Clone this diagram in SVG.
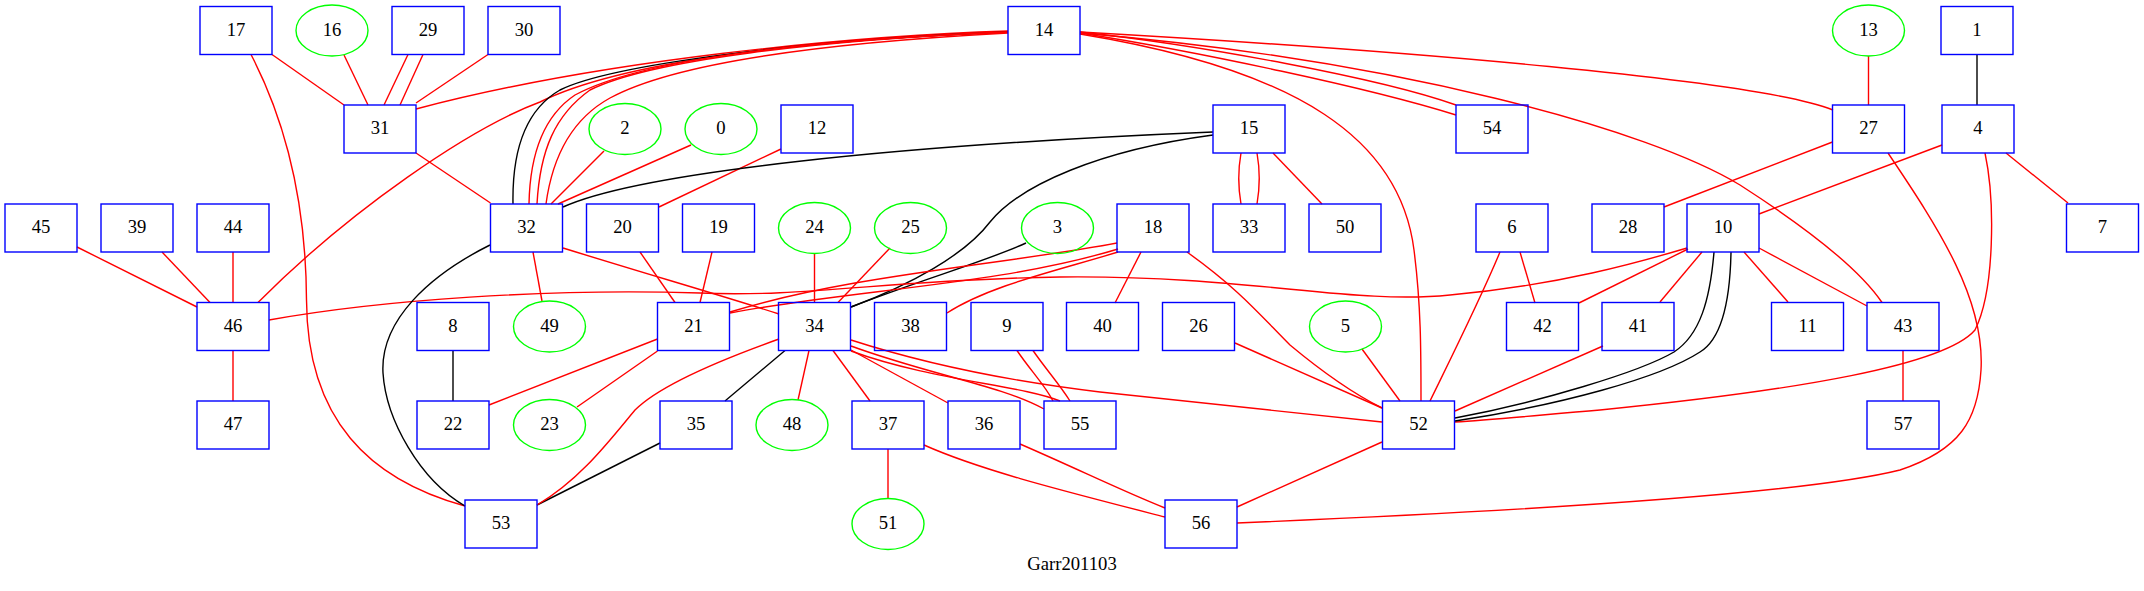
<svg xmlns="http://www.w3.org/2000/svg" width="2144" height="591" viewBox="0 0 2144 591">
<style>
.b rect{fill:none;stroke:#0000ff;stroke-width:1.4}
.e ellipse{fill:none;stroke:#00ff00;stroke-width:1.4}
text{font-family:"Liberation Serif","Times New Roman",serif;font-size:18.67px;fill:#000;text-anchor:middle}
#edges path{fill:none;stroke-width:1.4}
#edges .r{stroke:#ff0000}
#edges .k{stroke:#000000}
</style>
<rect width="2144" height="591" fill="#ffffff"/>
<g id="edges">
<path class="r" d="M272,54.5 L344,105"/>
<path class="r" d="M251,54.5 C285,120 306,200 306.5,300 C307,420 370,480 465,506"/>
<path class="r" d="M344,55 L368,105"/>
<path class="r" d="M408,54.5 L384,105"/>
<path class="r" d="M423,54.5 L400,105"/>
<path class="r" d="M488,54.5 L416,103"/>
<path class="r" d="M1008,31 C850,36 600,60 416,109"/>
<path class="r" d="M1008,32 C800,40 620,62 540,102 C470,128 350,210 258,302.5"/>
<path class="k" d="M1008,32 C800,40 610,65 560,90 C525,110 512,150 513,204"/>
<path class="r" d="M1008,32 C800,40 640,60 575,95 C545,115 530,150 529,204"/>
<path class="r" d="M1008,32 C820,40 650,60 590,90 C555,115 540,150 537,204"/>
<path class="r" d="M1008,33 C840,42 680,60 610,98 C570,120 552,160 546,204"/>
<path class="r" d="M416,153 L490.5,203"/>
<path class="r" d="M604,151 L551,204"/>
<path class="r" d="M691,145 L558,204"/>
<path class="r" d="M781,149 L659,207"/>
<path class="k" d="M1213,132 C900,145 640,172 563,207"/>
<path class="k" d="M1213,135 C1100,150 1020,185 990,222 C965,255 910,285 851,307"/>
<path class="k" d="M1026,243 C990,260 920,280 851,307"/>
<path class="r" d="M1241,153 C1238,170 1238,187 1241,204"/>
<path class="r" d="M1257,153 C1260,170 1260,187 1257,204"/>
<path class="r" d="M1273,153 L1322,204"/>
<path class="r" d="M1080,32 C1200,45 1380,78 1456,105"/>
<path class="r" d="M1080,33 C1200,52 1370,88 1456,115"/>
<path class="r" d="M1080,34 C1300,70 1400,140 1414,250 C1421,305 1421,350 1421,401"/>
<path class="r" d="M1080,33 C1400,60 1650,130 1740,185 C1810,230 1860,270 1882,302.5"/>
<path class="r" d="M1080,32 C1400,50 1760,80 1833,110"/>
<path class="r" d="M1868.5,56 L1868.5,105"/>
<path class="k" d="M1977,54.5 L1977,105"/>
<path class="r" d="M1832.5,142 L1664,207"/>
<path class="r" d="M1942,145 L1759,214"/>
<path class="r" d="M2006,153 L2068,203"/>
<path class="r" d="M1985,153 C1995,200 1995,290 1975,330 C1945,365 1800,390 1600,410 C1530,416 1490,420 1455,422"/>
<path class="r" d="M1888,153 C1940,230 1985,300 1981,370 C1978,420 1960,450 1900,470 C1800,495 1500,512 1237,523"/>
<path class="r" d="M1687,248 C1640,262 1560,285 1450,295 C1350,305 1250,275 1060,277 C900,279 800,298 700,293 C550,288 380,300 269,320"/>
<path class="r" d="M1117,243 C1000,265 850,275 730,312"/>
<path class="r" d="M1118,249 C1000,285 850,290 730,313"/>
<path class="r" d="M1118,252 C1060,270 990,285 947,313"/>
<path class="r" d="M1141,252 L1115,303"/>
<path class="r" d="M1187,252 C1240,290 1260,315 1290,345 C1320,370 1350,392 1382,408"/>
<path class="r" d="M1500,252 C1480,300 1450,360 1430,401"/>
<path class="r" d="M1520,252 L1535,303"/>
<path class="r" d="M1235,343 L1382,408"/>
<path class="r" d="M1362,349 L1400,401"/>
<path class="r" d="M1603,346 L1455,411"/>
<path class="k" d="M1714,252 C1710,300 1700,335 1674,352 C1640,372 1540,402 1455,418"/>
<path class="k" d="M1731,252 C1730,305 1720,340 1700,352 C1660,378 1560,405 1455,421"/>
<path class="r" d="M1702,252 L1660,302"/>
<path class="r" d="M1744,252 L1788,302"/>
<path class="r" d="M1759,248 L1867,306"/>
<path class="r" d="M1688,249 L1579,303"/>
<path class="r" d="M1903,350.5 L1903,401"/>
<path class="r" d="M1382,442 L1237,507"/>
<path class="r" d="M1020,444 C1080,470 1120,490 1165,508"/>
<path class="r" d="M924,445 C980,470 1060,490 1165,517"/>
<path class="r" d="M888,449 L888,498.5"/>
<path class="r" d="M851,346 C930,375 1000,385 1044,409"/>
<path class="r" d="M851,351 C930,380 1020,385 1060,401"/>
<path class="r" d="M851,340 C950,372 1050,386 1100,392 L1382,422"/>
<path class="r" d="M1017,350.5 C1030,370 1045,385 1053,401"/>
<path class="r" d="M1033,350.5 C1045,368 1060,385 1070,401"/>
<path class="r" d="M851,350 L948,403"/>
<path class="r" d="M833,350.5 L870,401"/>
<path class="r" d="M809,350.5 L798,400"/>
<path class="k" d="M785,350.5 L725,401"/>
<path class="k" d="M660,443 L537,505"/>
<path class="r" d="M779,339 C720,360 660,385 635,410 C610,440 580,480 537,505"/>
<path class="r" d="M657.5,339 L489,405"/>
<path class="r" d="M657.5,351 L577,407"/>
<path class="r" d="M640,252 L675,302.5"/>
<path class="r" d="M712,252 L700,302.5"/>
<path class="r" d="M814.5,253.5 L814.5,302.5"/>
<path class="r" d="M890,248 L838,302.5"/>
<path class="r" d="M563,248 C650,275 720,295 779,314"/>
<path class="r" d="M533,252 L542,301"/>
<path class="k" d="M490,245 C430,275 380,320 383,373 C386,420 420,480 465,506"/>
<path class="r" d="M77,247 L197,307"/>
<path class="r" d="M162,252 L210,302.5"/>
<path class="r" d="M233,252 L233,302.5"/>
<path class="r" d="M233,350.5 L233,401"/>
<path class="k" d="M453,350.5 L453,401"/>
</g>
<g id="n17" class="b"><rect x="200" y="6.5" width="72" height="48"/><text x="236" y="35.5">17</text></g>
<g id="n16" class="e"><ellipse cx="332" cy="30.5" rx="36" ry="25.5"/><text x="332" y="35.5">16</text></g>
<g id="n29" class="b"><rect x="392" y="6.5" width="72" height="48"/><text x="428" y="35.5">29</text></g>
<g id="n30" class="b"><rect x="488" y="6.5" width="72" height="48"/><text x="524" y="35.5">30</text></g>
<g id="n14" class="b"><rect x="1008" y="6.5" width="72" height="48"/><text x="1044" y="35.5">14</text></g>
<g id="n13" class="e"><ellipse cx="1868.5" cy="30.5" rx="36" ry="25.5"/><text x="1868.5" y="35.5">13</text></g>
<g id="n1" class="b"><rect x="1941" y="6.5" width="72" height="48"/><text x="1977" y="35.5">1</text></g>
<g id="n31" class="b"><rect x="344" y="105" width="72" height="48"/><text x="380" y="134">31</text></g>
<g id="n2" class="e"><ellipse cx="625" cy="129" rx="36" ry="25.5"/><text x="625" y="134">2</text></g>
<g id="n0" class="e"><ellipse cx="721" cy="129" rx="36" ry="25.5"/><text x="721" y="134">0</text></g>
<g id="n12" class="b"><rect x="781" y="105" width="72" height="48"/><text x="817" y="134">12</text></g>
<g id="n15" class="b"><rect x="1213" y="105" width="72" height="48"/><text x="1249" y="134">15</text></g>
<g id="n54" class="b"><rect x="1456" y="105" width="72" height="48"/><text x="1492" y="134">54</text></g>
<g id="n27" class="b"><rect x="1832.5" y="105" width="72" height="48"/><text x="1868.5" y="134">27</text></g>
<g id="n4" class="b"><rect x="1942" y="105" width="72" height="48"/><text x="1978" y="134">4</text></g>
<g id="n45" class="b"><rect x="5" y="204" width="72" height="48"/><text x="41" y="233">45</text></g>
<g id="n39" class="b"><rect x="101" y="204" width="72" height="48"/><text x="137" y="233">39</text></g>
<g id="n44" class="b"><rect x="197" y="204" width="72" height="48"/><text x="233" y="233">44</text></g>
<g id="n32" class="b"><rect x="490.5" y="204" width="72" height="48"/><text x="526.5" y="233">32</text></g>
<g id="n20" class="b"><rect x="586.5" y="204" width="72" height="48"/><text x="622.5" y="233">20</text></g>
<g id="n19" class="b"><rect x="682.5" y="204" width="72" height="48"/><text x="718.5" y="233">19</text></g>
<g id="n24" class="e"><ellipse cx="814.5" cy="228" rx="36" ry="25.5"/><text x="814.5" y="233">24</text></g>
<g id="n25" class="e"><ellipse cx="910.5" cy="228" rx="36" ry="25.5"/><text x="910.5" y="233">25</text></g>
<g id="n3" class="e"><ellipse cx="1057.5" cy="228" rx="36" ry="25.5"/><text x="1057.5" y="233">3</text></g>
<g id="n18" class="b"><rect x="1117" y="204" width="72" height="48"/><text x="1153" y="233">18</text></g>
<g id="n33" class="b"><rect x="1213" y="204" width="72" height="48"/><text x="1249" y="233">33</text></g>
<g id="n50" class="b"><rect x="1309" y="204" width="72" height="48"/><text x="1345" y="233">50</text></g>
<g id="n6" class="b"><rect x="1476" y="204" width="72" height="48"/><text x="1512" y="233">6</text></g>
<g id="n28" class="b"><rect x="1592" y="204" width="72" height="48"/><text x="1628" y="233">28</text></g>
<g id="n10" class="b"><rect x="1687" y="204" width="72" height="48"/><text x="1723" y="233">10</text></g>
<g id="n7" class="b"><rect x="2066.5" y="204" width="72" height="48"/><text x="2102.5" y="233">7</text></g>
<g id="n46" class="b"><rect x="197" y="302.5" width="72" height="48"/><text x="233" y="331.5">46</text></g>
<g id="n8" class="b"><rect x="417" y="302.5" width="72" height="48"/><text x="453" y="331.5">8</text></g>
<g id="n49" class="e"><ellipse cx="549.5" cy="326.5" rx="36" ry="25.5"/><text x="549.5" y="331.5">49</text></g>
<g id="n21" class="b"><rect x="657.5" y="302.5" width="72" height="48"/><text x="693.5" y="331.5">21</text></g>
<g id="n34" class="b"><rect x="778.5" y="302.5" width="72" height="48"/><text x="814.5" y="331.5">34</text></g>
<g id="n38" class="b"><rect x="874.5" y="302.5" width="72" height="48"/><text x="910.5" y="331.5">38</text></g>
<g id="n9" class="b"><rect x="971" y="302.5" width="72" height="48"/><text x="1007" y="331.5">9</text></g>
<g id="n40" class="b"><rect x="1066.5" y="302.5" width="72" height="48"/><text x="1102.5" y="331.5">40</text></g>
<g id="n26" class="b"><rect x="1162.5" y="302.5" width="72" height="48"/><text x="1198.5" y="331.5">26</text></g>
<g id="n5" class="e"><ellipse cx="1345.5" cy="326.5" rx="36" ry="25.5"/><text x="1345.5" y="331.5">5</text></g>
<g id="n42" class="b"><rect x="1506.5" y="302.5" width="72" height="48"/><text x="1542.5" y="331.5">42</text></g>
<g id="n41" class="b"><rect x="1602" y="302.5" width="72" height="48"/><text x="1638" y="331.5">41</text></g>
<g id="n11" class="b"><rect x="1771.5" y="302.5" width="72" height="48"/><text x="1807.5" y="331.5">11</text></g>
<g id="n43" class="b"><rect x="1867" y="302.5" width="72" height="48"/><text x="1903" y="331.5">43</text></g>
<g id="n47" class="b"><rect x="197" y="401" width="72" height="48"/><text x="233" y="430">47</text></g>
<g id="n22" class="b"><rect x="417" y="401" width="72" height="48"/><text x="453" y="430">22</text></g>
<g id="n23" class="e"><ellipse cx="549.5" cy="425" rx="36" ry="25.5"/><text x="549.5" y="430">23</text></g>
<g id="n35" class="b"><rect x="660" y="401" width="72" height="48"/><text x="696" y="430">35</text></g>
<g id="n48" class="e"><ellipse cx="792" cy="425" rx="36" ry="25.5"/><text x="792" y="430">48</text></g>
<g id="n37" class="b"><rect x="852" y="401" width="72" height="48"/><text x="888" y="430">37</text></g>
<g id="n36" class="b"><rect x="948" y="401" width="72" height="48"/><text x="984" y="430">36</text></g>
<g id="n55" class="b"><rect x="1044" y="401" width="72" height="48"/><text x="1080" y="430">55</text></g>
<g id="n52" class="b"><rect x="1382.5" y="401" width="72" height="48"/><text x="1418.5" y="430">52</text></g>
<g id="n57" class="b"><rect x="1867" y="401" width="72" height="48"/><text x="1903" y="430">57</text></g>
<g id="n53" class="b"><rect x="465" y="500" width="72" height="48"/><text x="501" y="529">53</text></g>
<g id="n51" class="e"><ellipse cx="888" cy="524" rx="36" ry="25.5"/><text x="888" y="529">51</text></g>
<g id="n56" class="b"><rect x="1165" y="500" width="72" height="48"/><text x="1201" y="529">56</text></g>
<text id="title" x="1072" y="570">Garr201103</text>
</svg>
